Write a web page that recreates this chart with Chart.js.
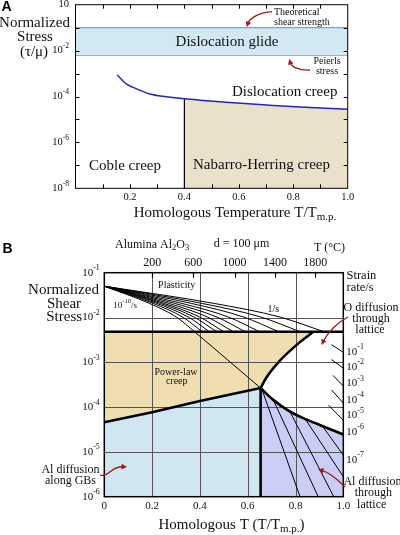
<!DOCTYPE html>
<html><head><meta charset="utf-8">
<script src="https://cdn.jsdelivr.net/npm/chart.js@4.4.1/dist/chart.umd.min.js"></script>
<style>
html,body{margin:0;padding:0;background:#fff;}
#wrap{position:relative;width:400px;height:535px;}
canvas{position:absolute;left:0;top:0;}
</style></head><body>
<div id="wrap"><canvas id="cA" width="400" height="535"></canvas><canvas id="cB" width="400" height="535"></canvas></div>
<script>
// ================= DATA : chart A =================
const xTicksA = [0.2, 0.4, 0.6, 0.8, 1.0];
const xTickLabelsA = ['0.2', '0.4', '0.6', '0.8', '1.0'];
const xMinorA = [0.1, 0.2, 0.3, 0.4, 0.5, 0.6, 0.7, 0.8, 0.9];
const yTicksA = [1, 1e-2, 1e-4, 1e-6, 1e-8];
const yTickExpA = ['', '-2', '-4', '-6', '-8'];
const yMinorA = [1e-1, 1e-2, 1e-3, 1e-4, 1e-5, 1e-6, 1e-7];
const glideTop = 0.1;        // theoretical shear strength
const glideBottom = 6.2e-3;  // Peierls stress
const creepX = [0.153, 0.188, 0.212, 0.273, 0.334, 0.4, 0.457, 0.579, 0.702, 0.824, 1.0];
const creepY = [8.7e-4, 3.47e-4, 2.5e-4, 1.29e-4, 9.8e-5, 7.9e-5, 6.9e-5, 5.4e-5, 4.27e-5, 3.47e-5, 2.8e-5];
const nhStart = 0.4;

// ================= DATA : chart B =================
const xTicksB = [0, 0.2, 0.4, 0.6, 0.8, 1.0];
const xTickLabelsB = ['0', '0.2', '0.4', '0.6', '0.8', '1.0'];
const yTicksB = [1e-1, 1e-2, 1e-3, 1e-4, 1e-5, 1e-6];
const yTickExpB = ['-1', '-2', '-3', '-4', '-5', '-6'];
const tempLabelsC = ['200', '600', '1000', '1400', '1800'];
const tempPosB = [0.201, 0.372, 0.545, 0.714, 0.883];
const plasticStress = 4.8e-3;
const fanY = [0.05, 0.0206, 0.0102, 4.8e-3];
const fanX = [
  [0, 0.189, 0.302, 0.378],
  [0, 0.205, 0.328, 0.41],
  [0, 0.22, 0.352, 0.44],
  [0, 0.235, 0.376, 0.47],
  [0, 0.25, 0.40, 0.50],
  [0, 0.27, 0.432, 0.54],
  [0, 0.295, 0.472, 0.59],
  [0, 0.325, 0.52, 0.65],
  [0, 0.365, 0.584, 0.73],
  [0, 0.41, 0.656, 0.82],
  [0, 0.46, 0.736, 0.92]
];
const glideExtX = [0.378, 0.654];
const glideExtY = [4.8e-3, 2.67e-4];
const gbBoundX = [0, 0.2, 0.4, 0.654];
const gbBoundY = [4.57e-5, 7.7e-5, 1.37e-4, 2.67e-4];
const oUpperX = [0.654, 0.677, 0.732, 0.805, 0.875];
const oUpperY = [2.67e-4, 4.47e-4, 1.05e-3, 2.45e-3, 4.8e-3];
const latBoundX = [0.654, 0.707, 0.777, 0.847, 0.916, 1.0];
const latBoundY = [2.67e-4, 1.45e-4, 7.9e-5, 5.25e-5, 3.7e-5, 2.45e-5];
const latFanX = [[0.66, 0.819], [0.707, 0.895], [0.777, 0.96], [0.84, 1.0], [0.912, 1.0]];
const latFanY = [[2.45e-4, 1e-6], [1.45e-4, 1e-6], [7.9e-5, 1e-6], [5.5e-5, 2.8e-6], [3.8e-5, 8.5e-6]];
const oTickX = [[0.951, 1.0], [0.951, 1.0], [0.957, 1.0], [0.951, 1.0], [0.938, 1.0]];
const oTickY = [[2.48e-3, 1.66e-3], [1.15e-3, 7.4e-4], [5.1e-4, 2.95e-4], [2.4e-4, 1.23e-4], [1.1e-4, 5.1e-5]];
const strainLabelExp = ['-1', '-2', '-3', '-4', '-5', '-6', '-7'];
const strainLabelStress = [1.72e-3, 7.9e-4, 3.4e-4, 1.44e-4, 6.6e-5, 2.8e-5, 6.6e-6];

// ================= helpers =================
const SERIF = '"Liberation Serif","Times New Roman",serif';
const SANS = '"Liberation Sans",Arial,sans-serif';
const fnt = (s, w) => (w ? w + ' ' : '') + s + 'px ' + SERIF;
const pts = (xs, ys) => xs.map((x, i) => ({x: x, y: ys[i]}));
function rich(ctx, parts, x, y, align) {
  let total = 0;
  for (const p of parts) { ctx.font = p.f || fnt(p.s); p.w = ctx.measureText(p.t).width; total += p.w; }
  let cx = align === 'right' ? x - total : align === 'center' ? x - total / 2 : x;
  ctx.textAlign = 'left'; ctx.textBaseline = 'middle';
  for (const p of parts) { ctx.font = p.f || fnt(p.s); ctx.fillText(p.t, cx, y + (p.dy || 0)); cx += p.w; }
}
function pow10(ctx, exp, x, y, s, align) {
  const parts = [{t: '10', s: s}];
  if (exp) parts.push({t: exp, s: s * 0.72, dy: -s * 0.42});
  rich(ctx, parts, x, y, align);
}
function txt(ctx, t, x, y, s, align) {
  ctx.font = fnt(s); ctx.textAlign = align || 'center'; ctx.textBaseline = 'middle'; ctx.fillText(t, x, y);
}
function arrow(ctx, p0, c1, c2, e) {
  ctx.save(); ctx.strokeStyle = '#a3161c'; ctx.fillStyle = '#a3161c'; ctx.lineWidth = 1.3;
  const a = Math.atan2(e[1] - c2[1], e[0] - c2[0]); const L = 5.5, W = 2.8;
  const bx = e[0] - L * 0.7 * Math.cos(a), by = e[1] - L * 0.7 * Math.sin(a);
  ctx.beginPath(); ctx.moveTo(p0[0], p0[1]); ctx.bezierCurveTo(c1[0], c1[1], c2[0], c2[1], bx, by); ctx.stroke();
  ctx.beginPath(); ctx.moveTo(e[0], e[1]);
  ctx.lineTo(e[0] - L * Math.cos(a) + W * Math.sin(a), e[1] - L * Math.sin(a) - W * Math.cos(a));
  ctx.lineTo(e[0] - L * Math.cos(a) - W * Math.sin(a), e[1] - L * Math.sin(a) + W * Math.cos(a));
  ctx.closePath(); ctx.fill(); ctx.restore();
}
const baseOpts = (pad, ymin, ymax) => ({
  responsive: false, animation: false, events: [],
  layout: {padding: pad},
  plugins: {legend: {display: false}, tooltip: {enabled: false}},
  scales: {
    x: {type: 'linear', min: 0, max: 1, display: false},
    y: {type: 'logarithmic', min: ymin, max: ymax, display: false}
  },
  elements: {point: {radius: 0}, line: {tension: 0}}
});
const NONE = 'rgba(0,0,0,0)';

// ================= Chart A =================
const creepPts = pts(creepX, creepY);
const tanPtsA = creepPts.filter(p => p.x >= nhStart);
const nhLineY = creepY[creepX.indexOf(nhStart)];
new Chart(document.getElementById('cA'), {
  type: 'line',
  data: {datasets: [
    {data: tanPtsA, fill: 'start', backgroundColor: '#e9e1ca', borderColor: NONE, borderWidth: 0, order: 3, cubicInterpolationMode: 'monotone'},
    {data: [{x: 0, y: glideTop}, {x: 1, y: glideTop}], fill: {value: glideBottom}, backgroundColor: '#d2e8f2', borderColor: '#5aaee6', borderWidth: 1.2, order: 2},
    {data: [{x: 0, y: glideBottom}, {x: 1, y: glideBottom}], fill: false, borderColor: '#5aaee6', borderWidth: 1.2, order: 2},
    {data: creepPts, fill: false, borderColor: '#2424c8', borderWidth: 1.5, order: 1, cubicInterpolationMode: 'monotone'},
    {data: [{x: nhStart, y: 1e-8}, {x: nhStart, y: nhLineY}], fill: false, borderColor: '#000', borderWidth: 1.2, order: 1}
  ]},
  options: baseOpts({left: 75.5, right: 52.3, top: 4.7, bottom: 346.7}, 1e-8, 1),
  plugins: [{
    id: 'decoA',
    afterDraw(chart) {
      const ctx = chart.ctx, a = chart.chartArea, sx = chart.scales.x, sy = chart.scales.y;
      ctx.save();
      ctx.strokeStyle = '#000'; ctx.lineWidth = 1;
      ctx.strokeRect(a.left, a.top, a.right - a.left, a.bottom - a.top);
      ctx.beginPath();
      for (const v of xMinorA) {
        const x = Math.round(sx.getPixelForValue(v)) + 0.5;
        ctx.moveTo(x, a.bottom); ctx.lineTo(x, a.bottom - 4);
        ctx.moveTo(x, a.top); ctx.lineTo(x, a.top + 4);
      }
      for (const v of yMinorA) {
        const y = Math.round(sy.getPixelForValue(v)) + 0.5;
        ctx.moveTo(a.left, y); ctx.lineTo(a.left + 4, y);
        ctx.moveTo(a.right, y); ctx.lineTo(a.right - 4, y);
      }
      ctx.stroke();
      ctx.fillStyle = '#111';
      xTicksA.forEach((v, i) => txt(ctx, xTickLabelsA[i], sx.getPixelForValue(v), a.bottom + 9, 10.5));
      yTicksA.forEach((v, i) => pow10(ctx, yTickExpA[i], a.left - 6.5, sy.getPixelForValue(v), 10.5, 'right'));
      // axis titles
      txt(ctx, 'Normalized', 34.5, 22.7, 15);
      txt(ctx, 'Stress', 35, 36.7, 15);
      txt(ctx, '(\u03c4/\u03bc)', 34, 51.7, 15);
      rich(ctx, [{t: 'Homologous Temperature T/T', s: 15}, {t: 'm.p.', s: 11, dy: 4}], 235, 213, 'center');
      // region labels
      txt(ctx, 'Dislocation glide', 227, 41.7, 15);
      txt(ctx, 'Dislocation creep', 284.7, 91.7, 15);
      txt(ctx, 'Coble creep', 125, 165.7, 15);
      txt(ctx, 'Nabarro-Herring creep', 261.5, 165.5, 15);
      txt(ctx, 'Theoretical', 274, 12.3, 10, 'left');
      txt(ctx, 'shear strength', 274, 22, 10, 'left');
      txt(ctx, 'Peierls', 327, 61.7, 10);
      txt(ctx, 'stress', 327, 71.7, 10);
      arrow(ctx, [272, 11.7], [260, 12.5], [250, 17.5], [246.7, 27]);
      arrow(ctx, [310, 70], [299, 70.5], [291.5, 67], [289.3, 59]);
      ctx.fillStyle = '#000'; ctx.font = 'bold 14px ' + SANS; ctx.textAlign = 'left'; ctx.textBaseline = 'alphabetic';
      ctx.fillText('A', 1.5, 10.5);
      ctx.restore();
    }
  }]
});

// ================= Chart B =================
const tanPolyB = [{x: 0, y: plasticStress}].concat(
  pts(oUpperX, oUpperY).reverse(), pts(gbBoundX, gbBoundY).reverse());
const bluePolyB = [{x: 0, y: 1e-6}].concat(pts(gbBoundX, gbBoundY), [{x: gbBoundX[gbBoundX.length - 1], y: 1e-6}]);
const lavPolyB = [{x: latBoundX[0], y: 1e-6}].concat(pts(latBoundX, latBoundY), [{x: 1, y: 1e-6}]);
const thin = (d, mono) => ({data: d, fill: false, borderColor: '#000', borderWidth: 1, order: 2, cubicInterpolationMode: mono ? 'monotone' : 'default'});
const thick = (d, mono) => ({data: d, fill: false, borderColor: '#000', borderWidth: 2.6, order: 1, cubicInterpolationMode: mono ? 'monotone' : 'default'});
const dsB = [
  {data: tanPolyB, fill: 'shape', backgroundColor: '#efdeb0', borderColor: NONE, borderWidth: 0, order: 3},
  {data: bluePolyB, fill: 'shape', backgroundColor: '#d0e7f2', borderColor: NONE, borderWidth: 0, order: 3},
  {data: lavPolyB, fill: 'shape', backgroundColor: '#cacef7', borderColor: NONE, borderWidth: 0, order: 3}
];
fanX.forEach(xs => dsB.push(thin(pts(xs, fanY), true)));
dsB.push(thin(pts(glideExtX, glideExtY)));
latFanX.forEach((xs, i) => dsB.push(thin(pts(xs, latFanY[i]))));
oTickX.forEach((xs, i) => dsB.push(thin(pts(xs, oTickY[i]))));
dsB.push(thick([{x: 0, y: plasticStress}, {x: 1, y: plasticStress}]));
dsB.push(thick(pts(gbBoundX, gbBoundY)));
dsB.push(thick(pts(oUpperX, oUpperY), true));
dsB.push(thick(pts(latBoundX, latBoundY), true));
dsB.push(thick([{x: latBoundX[0], y: 1e-6}, {x: latBoundX[0], y: latBoundY[0]}]));

new Chart(document.getElementById('cB'), {
  type: 'line',
  data: {datasets: dsB},
  options: baseOpts({left: 104.3, right: 56.7, top: 272.7, bottom: 38.3}, 1e-6, 1e-1),
  plugins: [{
    id: 'decoB',
    beforeDraw(chart) { chart.$gridDone = false; },
    beforeDatasetDraw(chart, args) {
      const ds = chart.data.datasets[args.index];
      if (chart.$gridDone || ds.order >= 3) return;
      chart.$gridDone = true;
      const ctx = chart.ctx, a = chart.chartArea, sx = chart.scales.x, sy = chart.scales.y;
      ctx.save(); ctx.strokeStyle = '#555'; ctx.lineWidth = 1; ctx.beginPath();
      xTicksB.slice(1, -1).forEach(v => { const x = Math.round(sx.getPixelForValue(v)) + 0.5; ctx.moveTo(x, a.top); ctx.lineTo(x, a.bottom); });
      yTicksB.slice(1, -1).forEach(v => { const y = Math.round(sy.getPixelForValue(v)) + 0.5; ctx.moveTo(a.left, y); ctx.lineTo(a.right, y); });
      ctx.stroke(); ctx.restore();
    },
    afterDraw(chart) {
      const ctx = chart.ctx, a = chart.chartArea, sx = chart.scales.x, sy = chart.scales.y;
      ctx.save();
      ctx.strokeStyle = '#000'; ctx.lineWidth = 1.5;
      ctx.strokeRect(a.left, a.top, a.right - a.left, a.bottom - a.top);
      ctx.lineWidth = 1.2; ctx.beginPath();
      tempPosB.forEach(v => { const x = Math.round(sx.getPixelForValue(v)) + 0.5; ctx.moveTo(x, a.top); ctx.lineTo(x, a.top + 5); });
      ctx.stroke();
      ctx.fillStyle = '#111';
      xTicksB.forEach((v, i) => txt(ctx, xTickLabelsB[i], sx.getPixelForValue(v), a.bottom + 9.5, 11));
      yTicksB.forEach((v, i) => pow10(ctx, yTickExpB[i], a.left - 4.5, sy.getPixelForValue(v), 11, 'right'));
      tempPosB.forEach((v, i) => txt(ctx, tempLabelsC[i], sx.getPixelForValue(v), a.top - 9.5, 12));
      strainLabelStress.forEach((v, i) => pow10(ctx, strainLabelExp[i], a.right + 3, sy.getPixelForValue(v), 11, 'left'));
      // header texts
      rich(ctx, [{t: 'Alumina Al', s: 12}, {t: '2', s: 8.5, dy: 3}, {t: 'O', s: 12}, {t: '3', s: 8.5, dy: 3}], 115, 245, 'left');
      txt(ctx, 'd = 100 \u03bcm', 241.5, 244, 12);
      txt(ctx, 'T (\u00b0C)', 329.5, 248, 12);
      txt(ctx, 'Strain', 346.5, 276, 12.5, 'left');
      txt(ctx, 'rate/s', 346.5, 287.5, 12.5, 'left');
      txt(ctx, 'O diffusion', 371, 308.3, 12);
      txt(ctx, 'through', 371, 319.3, 12);
      txt(ctx, 'lattice', 370, 329.5, 12);
      txt(ctx, 'Al diffusion', 372.5, 481.7, 12);
      txt(ctx, 'through', 373.3, 493.3, 12);
      txt(ctx, 'lattice', 371.7, 505, 12);
      txt(ctx, 'Al diffusion', 70.5, 470, 12);
      txt(ctx, 'along GBs', 70.5, 481, 12);
      txt(ctx, 'Normalized', 63.5, 290, 15);
      txt(ctx, 'Shear', 64, 304, 15);
      txt(ctx, 'Stress', 64.2, 317.3, 15);
      rich(ctx, [{t: 'Homologous T (T/T', s: 15}, {t: 'm.p.', s: 11, dy: 4}, {t: ')', s: 15}], 231.5, 525, 'center');
      txt(ctx, 'Plasticity', 176.7, 285.3, 10);
      rich(ctx, [{t: '10', s: 9}, {t: '-10', s: 6.5, dy: -3.8}, {t: '/s', s: 9}], 113.3, 305.3, 'left');
      txt(ctx, '1/s', 273.3, 309.7, 10);
      txt(ctx, 'Power-law', 176, 372.7, 10);
      txt(ctx, 'creep', 176.7, 381.7, 10);
      arrow(ctx, [348, 317], [338, 322], [328, 332], [321.5, 345]);
      arrow(ctx, [345, 487], [338, 480], [328, 472], [318, 469.5]);
      arrow(ctx, [100, 475], [108, 478], [111, 466], [127, 467]);
      ctx.fillStyle = '#000'; ctx.font = 'bold 14px ' + SANS; ctx.textAlign = 'left'; ctx.textBaseline = 'alphabetic';
      ctx.fillText('B', 2.5, 252.5);
      ctx.restore();
    }
  }]
});
</script>
</body></html>
